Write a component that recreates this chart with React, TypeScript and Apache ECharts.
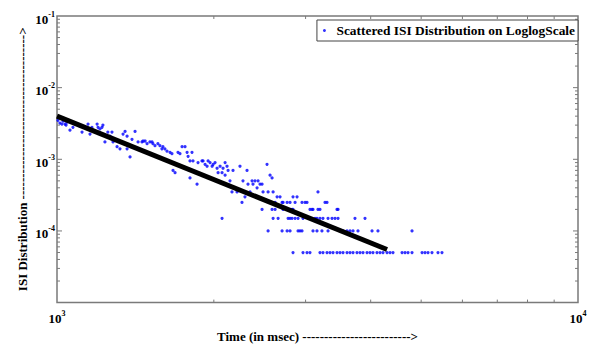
import React, { useEffect, useRef } from 'react';
import * as echarts from 'echarts';

// ---------- data ----------
const xRange = [1000, 10000];
const yRange = [1e-5, 1e-1];

// scattered ISI points (upper cloud): time (ms) and distribution value
const cloudX = [
  1004, 1013, 1022, 1027, 1036, 1045, 1041, 1059, 1073, 1107, 1117, 1147, 1147, 1157, 1167, 1194, 1199, 1209, 1220, 1225,
  1236, 1252, 1264, 1275, 1281, 1304, 1321, 1363, 1339, 1351, 1363, 1381, 1393, 1412, 1431, 1456, 1463, 1476, 1489, 1508,
  1522, 1528, 1542, 1562, 1576, 1590, 1597, 1611, 1626, 1648, 1662, 1670, 1685, 1707, 1722, 1738, 1761, 1777, 1785, 1800,
  1800, 1816, 1824, 1857, 1865, 1898, 1907, 1924, 1941, 1950, 1967, 1985, 1994, 2011, 2029, 2038, 2056, 2074, 2083, 2102,
  2102, 2120, 2130, 2148, 2167, 2177, 2216, 2245, 2265, 2275, 2295, 2316, 2326, 2347, 2368, 2378, 2399, 2421, 2432, 2453,
  2475, 2486, 2530, 2542, 2564, 2587, 2599, 2645, 2680, 2838, 2889, 3169,
];
const cloudY = [
  3.5e-3, 3.2e-3, 3.1e-3, 3.4e-3, 3.1e-3, 3.3e-3, 3.0e-3, 2.55e-3, 2.8e-3, 2.9e-3, 2.4e-3, 3.1e-3, 2.65e-3, 2.25e-3, 2.8e-3, 3.1e-3, 2.8e-3, 2.65e-3, 2.8e-3, 3.0e-3,
  1.75e-3, 2.4e-3, 2.1e-3, 2.4e-3, 1.75e-3, 1.5e-3, 1.4e-3, 1.4e-3, 2.25e-3, 2.45e-3, 2.1e-3, 1.08e-3, 1.9e-3, 2.45e-3, 1.75e-3, 1.75e-3, 1.8e-3, 1.8e-3, 1.65e-3, 1.75e-3,
  1.75e-3, 1.65e-3, 1.55e-3, 1.65e-3, 1.55e-3, 1.4e-3, 1.5e-3, 1.4e-3, 1.3e-3, 1.25e-3, 1.2e-3, 7e-4, 6.5e-4, 1.25e-3, 1.2e-3, 1.5e-3, 1.5e-3, 1.25e-3, 1.1e-3, 9.5e-4,
  5.5e-4, 1.25e-3, 9.5e-4, 4.5e-4, 9e-4, 9.5e-4, 9.5e-4, 8.5e-4, 8e-4, 9.5e-4, 9e-4, 8e-4, 8.5e-4, 9e-4, 7.5e-4, 6.5e-4, 8e-4, 6.5e-4, 7.5e-4, 6e-4,
  9e-4, 8e-4, 7e-4, 5e-4, 3.5e-4, 7e-4, 3.5e-4, 8e-4, 2.5e-4, 5e-4, 3e-4, 7e-4, 4.5e-4, 3.5e-4, 5e-4, 4.5e-4, 5e-4, 4e-4, 5e-4, 4.5e-4,
  4.5e-4, 3.5e-4, 8.5e-4, 3.5e-4, 6e-4, 5.5e-4, 3.5e-4, 3e-4, 3e-4, 3e-4, 3e-4, 3.5e-4,
];

// quantised lower rows (time values on each level)
const rowLevels = [2.5e-4, 2e-4, 1.5e-4, 1e-4, 5e-5];
const row250X = [2622, 2704, 2716, 2765, 2801, 2864, 2953, 2993, 3019, 3269, 3298];
const row200X = [2475, 2587, 2622, 2716, 2826, 2838, 3059, 3086, 3100, 3169, 3197, 3447, 3463];
const row150X = [2074, 2599, 2657, 2777, 2801, 2826, 2864, 2902, 2966, 3059, 3128, 3155, 3197, 3240, 3313, 3372, 3417, 3463, 3732, 3901];
const row100X = [2542, 2704, 2765, 2801, 2902, 2927, 2953, 3100, 3155, 3225, 3313, 3540, 3603, 3651, 3700, 3782, 4024, 4131, 4802];
const row050X = [2838, 2966, 3019, 3059, 3197, 3240, 3298, 3342, 3387, 3447, 3493, 3540, 3603, 3651, 3700, 3765, 3816, 3867, 3936, 3988,
  4041, 4113, 4169, 4224, 4300, 4357, 4415, 4595, 4656, 4718, 4802, 5020, 5086, 5154, 5245, 5386, 5482];
const rowXs = [row250X, row200X, row150X, row100X, row050X];

// fitted line end points
const fitX = [1000, 4300];
const fitY = [4.0e-3, 5.5e-5];

// ticks
const xMinorTicks = [2000, 3000, 4000, 5000, 6000, 7000, 8000, 9000];
const yMajorTicks = [1e-4, 1e-3, 1e-2];
const yMinorTicks = [
  2e-5, 3e-5, 4e-5, 5e-5, 6e-5, 7e-5, 8e-5, 9e-5,
  2e-4, 3e-4, 4e-4, 5e-4, 6e-4, 7e-4, 8e-4, 9e-4,
  2e-3, 3e-3, 4e-3, 5e-3, 6e-3, 7e-3, 8e-3, 9e-3,
  2e-2, 3e-2, 4e-2, 5e-2, 6e-2, 7e-2, 8e-2, 9e-2,
];

const seriesName = 'Scattered ISI Distribution on LoglogScale';
const xTitle = 'Time (in msec) ' + '-'.repeat(25) + '>';
const yTitle = 'ISI Distribution ' + '-'.repeat(38) + '>';

// ---------- chart ----------
const FONT = 'Liberation Serif';
const FRAME = '#7a7a7a';

function buildScatter(): number[][] {
  const pts: number[][] = cloudX.map((x, i) => [x, cloudY[i]]);
  rowXs.forEach((xs, r) => xs.forEach((x) => pts.push([x, rowLevels[r]])));
  return pts;
}

const labelRich = {
  b: { fontFamily: FONT, fontWeight: 'bold', fontSize: 13, color: '#000', lineHeight: 18 },
  s: { fontFamily: FONT, fontWeight: 'bold', fontSize: 8, color: '#000', lineHeight: 10, verticalAlign: 'top' },
};
const powLabel = (v: number) => `{b|10}{s|${Math.round(Math.log10(v))}}`;

function tickSeries(values: number[], horizontal: boolean, len: number) {
  return {
    type: 'custom',
    silent: true,
    clip: false,
    z: 3,
    encode: { x: 0, y: 1 },
    data: values.map((v) => (horizontal ? [xRange[0], v] : [v, yRange[0]])),
    renderItem: (params: any, api: any) => {
      const cs = params.coordSys;
      const p = api.coord([api.value(0), api.value(1)]);
      const style = { stroke: FRAME, lineWidth: 1 };
      if (horizontal) {
        return {
          type: 'group',
          children: [
            { type: 'line', shape: { x1: cs.x, y1: p[1], x2: cs.x + len, y2: p[1] }, style },
            { type: 'line', shape: { x1: cs.x + cs.width, y1: p[1], x2: cs.x + cs.width - len, y2: p[1] }, style },
          ],
        };
      }
      return {
        type: 'group',
        children: [
          { type: 'line', shape: { x1: p[0], y1: cs.y + cs.height, x2: p[0], y2: cs.y + cs.height - len }, style },
          { type: 'line', shape: { x1: p[0], y1: cs.y, x2: p[0], y2: cs.y + len }, style },
        ],
      };
    },
  };
}

export default function App() {
  const ref = useRef<HTMLDivElement>(null);
  useEffect(() => {
    if (!ref.current) return;
    const chart = echarts.init(ref.current, undefined, { renderer: 'svg' });
    chart.setOption({
      animation: false,
      backgroundColor: '#fff',
      grid: { left: 57, right: 12, top: 16, bottom: 43, show: true, borderColor: FRAME, borderWidth: 1.5, backgroundColor: '#fff' },
      legend: {
        data: [{ name: seriesName, icon: 'circle' }],
        right: 12,
        top: 20,
        itemWidth: 14,
        itemHeight: 3,
        padding: [4, 3, 4, 6],
        borderColor: '#444',
        borderWidth: 1,
        backgroundColor: '#fff',
        textStyle: { fontFamily: FONT, fontWeight: 'bold', fontSize: 13.4, color: '#000' },
      },
      xAxis: {
        type: 'log',
        logBase: 10,
        min: xRange[0],
        max: xRange[1],
        axisLine: { show: false },
        axisTick: { show: false },
        splitLine: { show: false },
        axisLabel: { formatter: powLabel, rich: labelRich, margin: 7 },
        name: xTitle,
        nameLocation: 'middle',
        nameGap: 24,
        nameTextStyle: { fontFamily: FONT, fontWeight: 'bold', fontSize: 13, color: '#000' },
      },
      yAxis: {
        type: 'log',
        logBase: 10,
        min: yRange[0],
        max: yRange[1],
        axisLine: { show: false },
        axisTick: { show: false },
        splitLine: { show: false },
        axisLabel: { formatter: powLabel, rich: labelRich, margin: 2, showMinLabel: false, padding: [6, 0, 0, 0] },
        name: yTitle,
        nameLocation: 'middle',
        nameGap: 28,
        nameMoveOverlap: false,
        nameTextStyle: { fontFamily: FONT, fontWeight: 'bold', fontSize: 13, color: '#000' },
      },
      series: [
        tickSeries(xMinorTicks, false, 3),
        tickSeries(yMinorTicks, true, 3),
        tickSeries(yMajorTicks, true, 5),
        {
          name: seriesName,
          type: 'scatter',
          symbol: 'circle',
          symbolSize: 3.2,
          itemStyle: { color: '#0000ff' },
          data: buildScatter(),
          z: 2,
        },
        {
          name: 'fit',
          type: 'line',
          symbol: 'none',
          lineStyle: { color: '#000', width: 5 },
          data: fitX.map((x, i) => [x, fitY[i]]),
          z: 4,
        },
      ],
    });
    return () => chart.dispose();
  }, []);
  return <div ref={ref} style={{ position: 'fixed', left: 0, top: 0, width: 590, height: 348 }} />;
}
